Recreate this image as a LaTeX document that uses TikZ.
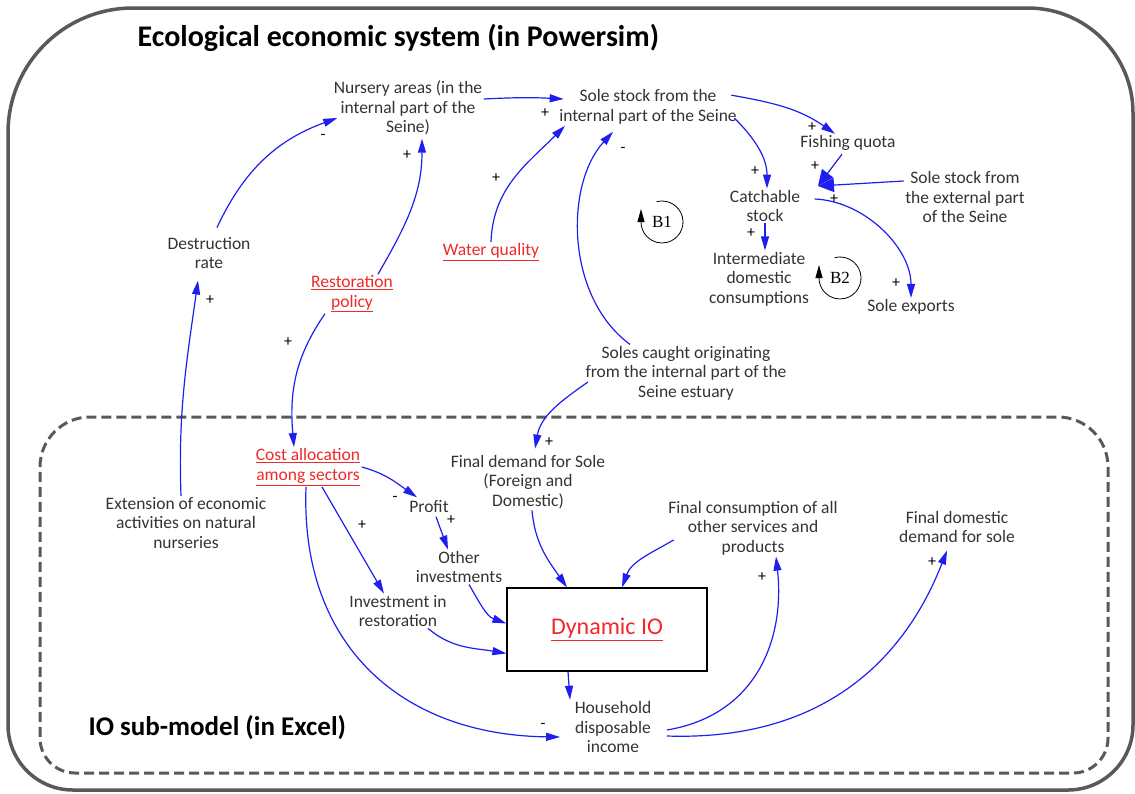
\documentclass[tikz,border=0pt]{standalone}
\usepackage{fontspec}
\setmainfont{Carlito}
\newfontfamily\loopfont{Liberation Serif}
\usetikzlibrary{arrows.meta, calc}
\definecolor{cframe}{HTML}{595959}
\definecolor{clink}{HTML}{1E1EF0}
\definecolor{ctext}{HTML}{333333}
\definecolor{cred}{HTML}{F02828}
\tikzset{
  every picture/.style={line width=1.2pt},
  lbl/.style={align=center, inner sep=1pt, text=ctext, font=\fontsize{17.5}{19.5}\selectfont},
  policy/.style={lbl, text=cred},
  link/.style={-{Triangle[length=14pt,width=8pt]}, draw=clink, line width=1.2pt},
  biglink/.style={link, -{Triangle[length=16pt,width=14pt]}},
  sgn/.style={inner sep=0pt, font=\fontsize{16}{16}\selectfont},
  frametitle/.style={anchor=west, inner sep=0pt, font=\bfseries\fontsize{30}{34}\selectfont},
  loopname/.style={font=\loopfont\fontsize{17}{17}\selectfont, inner sep=0pt},
  looparrow/.style={-{Triangle[length=13pt,width=7pt]}, line width=0.8pt},
}

\begin{document}
\begin{tikzpicture}[x=1pt, y=1pt]
  \useasboundingbox (0,0) rectangle (1135,-793);
  % frames
  \draw[cframe, line width=3.5pt] (8,-133) arc[start angle=180, end angle=90, radius=125] -- (1028,-8)
    arc[start angle=90, end angle=0, radius=105] -- (1133,-725)
    arc[start angle=0, end angle=-90, radius=65] -- (73,-790)
    arc[start angle=-90, end angle=-180, radius=65] -- cycle;
  \draw[cframe, line width=3pt, dash pattern=on 10pt off 5pt] (40,-467) arc[start angle=180, end angle=90, radius=50] -- (1058,-417)
    arc[start angle=90, end angle=0, radius=50] -- (1108,-738)
    arc[start angle=0, end angle=-90, radius=35] -- (75,-773)
    arc[start angle=-90, end angle=-180, radius=35] -- cycle;
  \node[frametitle] (eco) at (137,-38) {Ecological economic system (in Powersim)};
  \node[frametitle, font=\bfseries\fontsize{27}{30}\selectfont] (io) at (88,-728) {IO sub-model (in Excel)};

  % ecological part (Powersim)
  \node[lbl] (nursery) at (408,-108) {Nursery areas (in the\\internal part of the\\Seine)};
  \node[lbl] (soleint) at (648,-107) {Sole stock from the\\internal part of the Seine};
  \node[lbl] (quota) at (848,-143) {Fishing quota};
  \node[lbl] (catch) at (765,-206) {Catchable\\stock};
  \node[lbl] (interm) at (759,-279) {Intermediate\\domestic\\consumptions};
  \node[lbl] (soleext) at (965,-197) {Sole stock from\\the external part\\of the Seine};
  \node[lbl] (exports) at (911,-307) {Sole exports};
  \node[lbl] (destr) at (209,-253) {Destruction\\rate};
  \node[policy] (restor) at (352,-294) {\underline{Restoration}\\\underline{policy}};
  \node[policy] (water) at (491,-252) {\underline{Water quality}};
  \node[lbl] (caught) at (686,-373) {Soles caught originating\\from the internal part of the\\Seine estuary};
  \coordinate (hub) at (818,-186);
  \node[loopname] (b1) at (662,-222) {B1};
  \node[loopname] (b2) at (840,-278) {B2};

  % IO part (Excel)
  \node[policy] (cost) at (308,-467) {\underline{Cost allocation}\\\underline{among sectors}};
  \node[lbl] (extens) at (186,-523) {Extension of economic\\activities on natural\\nurseries};
  \node[lbl] (profit) at (429,-507) {Profit};
  \node[lbl] (otherinv) at (459,-567) {Other\\investments};
  \node[lbl] (invrest) at (398,-611) {Investment in\\restoration};
  \node[lbl] (finaldem) at (528,-482) {Final demand for Sole\\(Foreign and\\Domestic)};
  \node[lbl] (finalcons) at (753,-528) {Final consumption of all\\other services and\\products};
  \node[lbl] (finaldom) at (957,-527) {Final domestic\\demand for sole};
  \node[draw=black, line width=1.2pt, minimum width=200pt, minimum height=83pt, text=cred, font=\fontsize{24}{26}\selectfont] (dynio) at (607,-629.5) {\underline{Dynamic IO}};
  \node[lbl] (house) at (613,-727) {Household\\disposable\\income};

  % links of the ecological part
  \draw[link] ([yshift=9pt]nursery.east) to[bend left=3] ([xshift=6pt,yshift=8pt]soleint.west);
  \draw[link] (water.north) to[out=88, in=225] ([xshift=-83pt]soleint.south);
  \draw[link] ([xshift=-56pt]caught.north) .. controls +(-65,48) and +(-48,-52) .. ([xshift=-35pt,yshift=-6pt]soleint.south);
  \draw[link] ([xshift=-4pt,yshift=-11pt]soleint.east) to[out=-45, in=90] ([xshift=2pt]catch.north);
  \draw[link] ([xshift=-7pt,yshift=-7pt]soleint.north east) to[out=-10, in=145] ([xshift=-13pt]quota.north);
  \draw[link] (catch.south) -- (catch.south |- interm.north);
  \draw[biglink] ([xshift=-6pt,yshift=-2pt]quota.south) -- (hub);
  \draw[biglink] ([yshift=16pt]soleext.west) -- (hub);
  \draw[link] ([xshift=13pt,yshift=7pt]catch.east) .. controls +(50,-2) and +(0,50) .. (exports.north);
  \draw[link] ([xshift=8pt,yshift=8pt]destr.north) to[out=65, in=200] ([xshift=5pt,yshift=-10pt]nursery.west);
  \draw[link] ([xshift=26pt]restor.north) to[out=60, in=-90] ([xshift=14pt,yshift=-2pt]nursery.south);
  \draw[link] ([xshift=-5pt]extens.north) to[out=92, in=262] ([xshift=-11pt,yshift=-10pt]destr.south);
  \draw[link] ([xshift=-27pt]restor.south) to[out=235, in=95] ([xshift=-14pt]cost.north);
  \draw[link] ([xshift=4pt,yshift=-9pt]caught.west) to[out=215, in=80] ([xshift=7pt,yshift=5pt]finaldem.north);
  % balancing loops
  \draw[looparrow] ([shift={(105:21pt)}]b1.center) arc[start angle=105, end angle=-180, radius=21pt] -- ++(0,13pt);
  \draw[looparrow] ([shift={(105:21pt)}]b2.center) arc[start angle=105, end angle=-180, radius=21pt] -- ++(0,13pt);

  % links of the IO part
  \draw[link] (cost.east) to[out=-15, in=145] ([xshift=-12pt,yshift=2pt]profit.north);
  \draw[link] ([xshift=7pt,yshift=-2pt]profit.south) -- ([xshift=-11pt]otherinv.north);
  \draw[link] ([xshift=14pt]cost.south) -- ([xshift=-14pt]invrest.north);
  \draw[link] ([xshift=-2pt]cost.south) .. controls +(-6,-160) and +(-157,2) .. ([xshift=-13pt,yshift=-10pt]house.west);
  \draw[link] ([xshift=10pt]otherinv.south) to[out=-60, in=160] ([yshift=6pt]dynio.west);
  \draw[link] ([xshift=30pt]invrest.south) to[out=-40, in=170] ([yshift=-24pt]dynio.west);
  \draw[link] ([xshift=4pt]finaldem.south) to[out=-85, in=125] ([xshift=-40pt]dynio.north);
  \draw[link] ([xshift=7pt,yshift=-12pt]finalcons.west) to[out=210, in=70] ([xshift=15pt]dynio.north);
  \draw[link] ([xshift=-39pt]dynio.south) -- ([xshift=-43pt]house.north);
  \draw[link] ([xshift=14pt,yshift=-3pt]house.east) .. controls +(90,15) and +(9,-82) .. ([xshift=23pt]finalcons.south);
  \draw[link] ([xshift=14pt,yshift=-9pt]house.east) .. controls +(180,-6) and +(-32,-82) .. ([xshift=-10pt,yshift=-6pt]finaldom.south);

  % polarities
  \foreach \s/\x/\y [count=\i] in {+/545/113, +/496/178, -/623/150, +/755/171, +/812/127, +/751/233, +/815/166,
      +/834/199, +/896/283, -/323/137, +/407/155, +/210/300, +/288/342, +/549/442, -/395/499, +/451/520,
      +/362/525, -/543/726, +/762/577, +/932/562}
    \node[sgn] (sg\i) at (\x,-\y) {\s};
\end{tikzpicture}
\end{document}
